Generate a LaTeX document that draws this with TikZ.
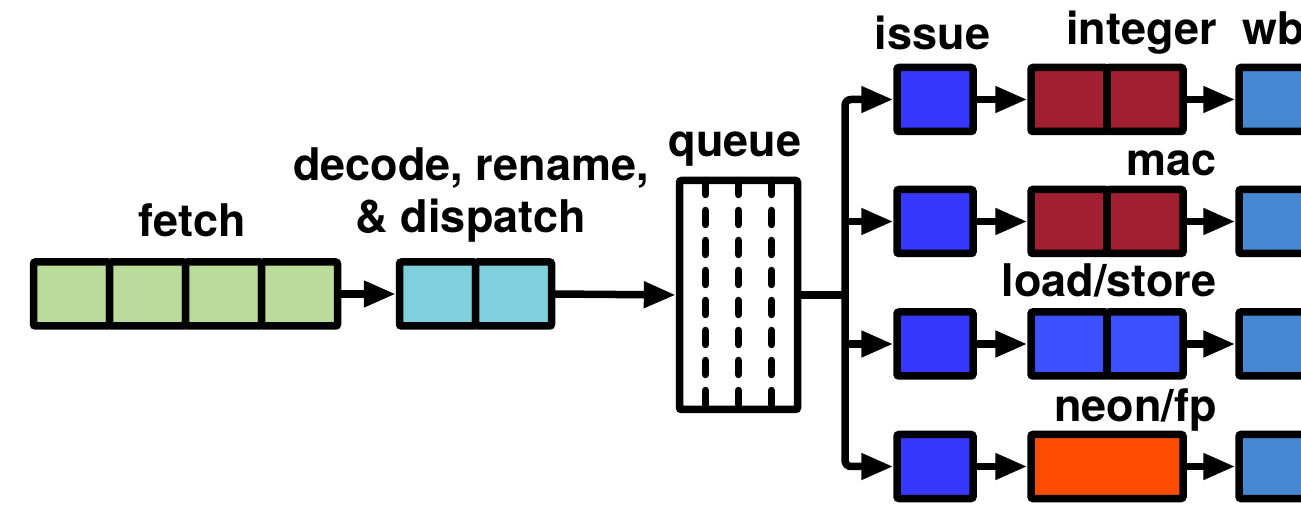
\documentclass[tikz,border=0pt]{standalone}
\usepackage{fontspec}
\setmainfont{TeX Gyre Heros}
\usetikzlibrary{arrows.meta, positioning, calc}

\definecolor{fetchgreen}{RGB}{187,219,155}
\definecolor{decodecyan}{RGB}{127,208,220}
\definecolor{issueblue}{RGB}{55,55,255}
\definecolor{intred}{RGB}{160,32,50}
\definecolor{lsblue}{RGB}{60,80,255}
\definecolor{neonorange}{RGB}{255,77,0}
\definecolor{wbblue}{RGB}{70,135,210}

\begin{document}
\begin{tikzpicture}[x=0.5pt, y=-0.5pt]

% Define block styles
\tikzstyle{cell} = [rectangle, draw, line width=3.75pt, rounded corners=1pt,
minimum width=38pt, minimum height=32pt, inner sep=0pt, outer sep=0pt]
\tikzstyle{stage} = [font=\bfseries\fontsize{22.5}{26}\selectfont, inner sep=0pt, anchor=base]
\tikzstyle{line} = [draw, line width=3.75pt, -{Triangle[length=16pt, width=12.5pt]}, shorten >=1.85pt]
\tikzstyle{wire} = [draw, line width=3.75pt]
\tikzstyle{qdash} = [draw, line width=3.75pt, line cap=round, dash pattern=on 7pt off 8pt]

\useasboundingbox (0,0) rectangle (1301,507);

% Front end
\node [cell, fill=fetchgreen] (f1) at (71.5,294) {};
\node [cell, fill=fetchgreen, right=0pt of f1] (f2) {};
\node [cell, fill=fetchgreen, right=0pt of f2] (f3) {};
\node [cell, fill=fetchgreen, right=0pt of f3] (f4) {};
\node [cell, fill=decodecyan] (d1) at (437.5,294) {};
\node [cell, fill=decodecyan, right=0pt of d1] (d2) {};
\node [cell, fill=white, minimum width=59pt, minimum height=114.5pt] (queue) at (738.5,295) {};
\foreach \dx in {-16.5,0,16.5}
\path [qdash] ([xshift=\dx pt]queue.north) -- ([xshift=\dx pt]queue.south);

% Back end pipelines
\node [cell, fill=issueblue] (iss1) at (935,99.5) {};
\node [cell, fill=intred, right=29pt of iss1] (int1) {};
\node [cell, fill=intred, right=0pt of int1] (int2) {};
\node [cell, fill=wbblue, right=28pt of int2] (wb1) {};

\node [cell, fill=issueblue] (iss2) at (935,221.5) {};
\node [cell, fill=intred, right=29pt of iss2] (mac1) {};
\node [cell, fill=intred, right=0pt of mac1] (mac2) {};
\node [cell, fill=wbblue, right=28pt of mac2] (wb2) {};

\node [cell, fill=issueblue] (iss3) at (935,344) {};
\node [cell, fill=lsblue, right=29pt of iss3] (ls1) {};
\node [cell, fill=lsblue, right=0pt of ls1] (ls2) {};
\node [cell, fill=wbblue, right=28pt of ls2] (wb3) {};

\node [cell, fill=issueblue] (iss4) at (935,466.5) {};
\node [cell, fill=neonorange, minimum width=76pt, right=29pt of iss4] (neon) {};
\node [cell, fill=wbblue, right=28pt of neon] (wb4) {};

% Labels
\node [stage] (fetchlbl) at (192,237) {fetch};
\node [stage, align=center] (decodelbl) at (471,233) {decode, rename,\\\& dispatch};
\node [stage] (queuelbl) at (735,157) {queue};
\node [stage] (issuelbl) at (932.5,50) {issue};
\node [stage, anchor=base east] (intlbl) at (1217,45) {integer};
\node [stage, anchor=base west] (wblbl) at (1242,45) {wb};
\node [stage, anchor=base east] (maclbl) at (1217,176) {mac};
\node [stage, anchor=base east] (lslbl) at (1217,297) {load/store};
\node [stage, anchor=base east] (neonlbl) at (1217,422) {neon/fp};

% Paths
\coordinate [right=23.75pt of queue] (split);
\path [line] (f4.east) -- (d1.west);
\path [line] (d2.east) -- (queue.west);
\path [wire] (queue.east) -- (split);
\path [line, rounded corners=3pt] (split) |- (iss1.west);
\path [line, rounded corners=3pt] (split) |- (iss4.west);
\path [line] (split |- iss2.west) -- (iss2.west);
\path [line] (split |- iss3.west) -- (iss3.west);
\path [line] (iss1.east) -- (int1.west);
\path [line] (int2.east) -- (wb1.west);
\path [line] (iss2.east) -- (mac1.west);
\path [line] (mac2.east) -- (wb2.west);
\path [line] (iss3.east) -- (ls1.west);
\path [line] (ls2.east) -- (wb3.west);
\path [line] (iss4.east) -- (neon.west);
\path [line] (neon.east) -- (wb4.west);
\end{tikzpicture}
\end{document}
